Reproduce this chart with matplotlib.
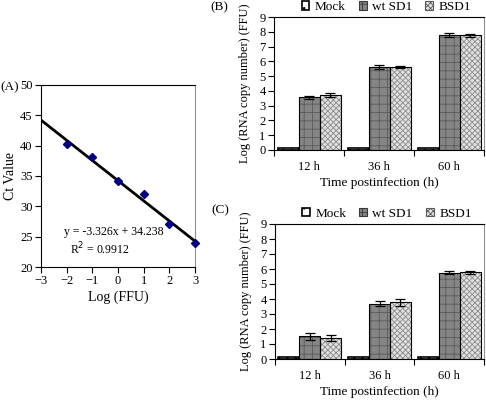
import matplotlib
matplotlib.use("Agg")
import matplotlib.pyplot as plt
import numpy as np
from matplotlib.patches import Patch

plt.rcParams['font.family'] = ['Liberation Serif', 'DejaVu Serif']
plt.rcParams['font.size'] = 9
plt.rcParams['hatch.linewidth'] = 0.6

# Panel A data
log_ffu = [-2, -1, 0, 1, 2, 3]
ct_values = [40.2, 38.2, 34.1, 32.0, 27.1, 24.0]
slope = -3.326
intercept = 34.238
fit_x = [-3, 3]

# Panels B, C data
categories = ['12 h', '36 h', '60 h']
series = ['Mock', 'wt SD1', 'BSD1']
b_mock = [0.12, 0.12, 0.12]
b_wt = [3.57, 5.6, 7.8]
b_bsd = [3.72, 5.62, 7.75]
b_wt_err = [0.1, 0.12, 0.12]
b_bsd_err = [0.14, 0.05, 0.1]
c_mock = [0.12, 0.12, 0.12]
c_wt = [1.52, 3.7, 5.75]
c_bsd = [1.4, 3.78, 5.78]
c_wt_err = [0.22, 0.14, 0.1]
c_bsd_err = [0.2, 0.22, 0.12]

fig = plt.figure(figsize=(4.86, 4.0), dpi=100)

# ---------- Panel A ----------
axA = fig.add_axes([41/486, 1-267/400, (195-41)/486, (267-85)/400])
fx = np.array(fit_x, dtype=float)
axA.plot(fx, slope*fx + intercept, color='black', lw=2, zorder=2)
axA.plot(log_ffu, ct_values, linestyle='none', marker='D', markersize=4.5,
         color='#000080', zorder=3, clip_on=False)
axA.set_xlim(-3, 3)
axA.set_ylim(20, 50)
axA.set_xticks(range(-3, 4))
axA.set_yticks(range(20, 51, 5))
axA.tick_params(direction='out', length=4, width=0.8, pad=2)
for s in ['left', 'bottom', 'top']:
    axA.spines[s].set_color('black')
axA.spines['right'].set_color('#909090')
axA.set_xlabel('Log (FFU)', fontsize=10, labelpad=2)
axA.set_ylabel('Ct Value', fontsize=10, labelpad=2)
axA.text(0.47, 0.195, 'y = -3.326x + 34.238', transform=axA.transAxes, ha='center', va='center', fontsize=8.5)
axA.text(0.38, 0.1, r'R$^{2}$ = 0.9912', transform=axA.transAxes, ha='center', va='center', fontsize=8.5)
fig.text(0/486, 1-87/400, '(A)', ha='left', va='center', fontsize=9.5)

def bar_panel(rect, mock, wt, bsd, wt_err, bsd_err, label, label_xy, legend_y):
    ax = fig.add_axes(rect)
    x = np.arange(len(categories))
    w = 0.3
    # Mock
    ax.bar(x - w, mock, w, facecolor='white', edgecolor='black', lw=1.2, hatch='..', zorder=2)
    # wt SD1
    ax.bar(x, wt, w, facecolor='#858585', edgecolor='#5a5a5a', lw=0, hatch='++', zorder=2)
    ax.bar(x, wt, w, facecolor='none', edgecolor='black', lw=0.8, zorder=3)
    # BSD1
    ax.bar(x + w, bsd, w, facecolor='#e2e2e2', edgecolor='#8a8a8a', lw=0, hatch='xxxxxx', zorder=2)
    ax.bar(x + w, bsd, w, facecolor='none', edgecolor='black', lw=0.8, zorder=3)
    ax.errorbar(x, wt, yerr=wt_err, fmt='none', ecolor='black', elinewidth=0.9, capsize=3.5, capthick=0.9, zorder=4)
    ax.errorbar(x + w, bsd, yerr=bsd_err, fmt='none', ecolor='black', elinewidth=0.9, capsize=3.5, capthick=0.9, zorder=4)
    ax.set_xlim(-0.5, len(categories) - 0.5)
    ax.set_ylim(0, 9)
    ax.set_yticks(range(0, 10))
    ax.set_xticks(x)
    ax.set_xticklabels(categories)
    ax.set_xticks(np.arange(-0.5, len(categories)), minor=True)
    ax.tick_params(axis='x', which='major', length=0, pad=8)
    ax.tick_params(axis='x', which='minor', direction='out', length=4, width=0.8)
    ax.tick_params(axis='y', direction='out', length=4, width=0.8, pad=2)
    ax.set_xlabel('Time postinfection (h)', fontsize=9.5, labelpad=3)
    ax.set_ylabel('Log (RNA copy number) (FFU)', fontsize=9, labelpad=6)
    ax.spines['right'].set_color('#909090')
    handles = [Patch(facecolor='white', edgecolor='black', hatch='..', lw=1.2),
               Patch(facecolor='#858585', edgecolor='#3a3a3a', hatch='++', lw=0.8),
               Patch(facecolor='#e2e2e2', edgecolor='#5a5a5a', hatch='xxxxxx', lw=0.8)]
    ax.legend(handles, series, loc='center', bbox_to_anchor=(0.535, legend_y),
              ncol=3, frameon=False, fontsize=9.5, handlelength=0.6, handleheight=0.6,
              handletextpad=0.4, columnspacing=1.0, borderaxespad=0)
    fig.text(label_xy[0], label_xy[1], label, ha='left', va='center', fontsize=9.5)
    return ax

bar_panel([274/486, 1-150/400, (484-274)/486, (150-17)/400], b_mock, b_wt, b_bsd,
          b_wt_err, b_bsd_err, '(B)', (210/486, 1-7/400), 1.075)
bar_panel([275/486, 1-359/400, (484-275)/486, (359-224)/400], c_mock, c_wt, c_bsd,
          c_wt_err, c_bsd_err, '(C)', (211/486, 1-210/400), 1.075)

fig.savefig('out.png', dpi=100)
